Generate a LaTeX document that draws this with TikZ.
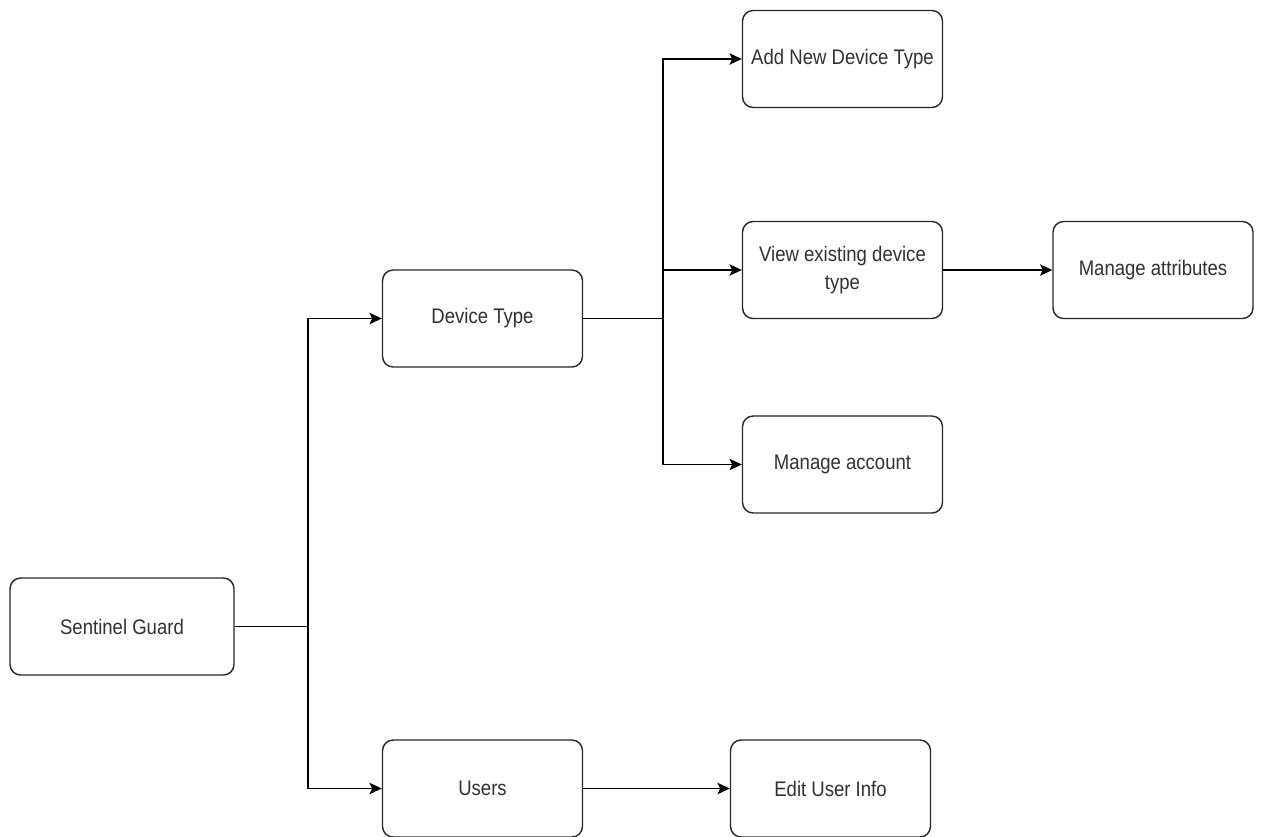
\documentclass[tikz,border=0pt]{standalone}
\usepackage{fontspec}
\setmainfont[FakeStretch=0.88]{Liberation Sans}
\usetikzlibrary{
    positioning,
    arrows.meta
}
\definecolor{boxline}{RGB}{40, 40, 40}
\definecolor{boxtext}{RGB}{50, 50, 50}

\begin{document}
\begin{tikzpicture}[
    x=0.02cm, y=-0.02cm,
    menu/.style={rectangle, draw=boxline, fill=white, rounded corners=6pt, line width=0.8pt,
                 minimum width=#1, minimum height=1.94cm, align=center,
                 font=\fontsize{12}{16}\selectfont, text=boxtext},
    menu/.default=4cm,
    arrow/.style={-{Stealth[length=7pt, width=6.5pt, inset=1.5pt]}, line width=0.8pt, draw=black},
    link/.style={line width=0.8pt, draw=black}
]

\useasboundingbox (0,0) rectangle (1261,836);

% ============================================
% ROOT
% ============================================
\node[menu=4.48cm] (sentinel) at (122, 626.5) {Sentinel Guard};
\coordinate (busroot) at (308, 626.5);

% ============================================
% FIRST LEVEL
% ============================================
\node[menu] (devtype) at (482.5, 318.5) {Device Type};
\node[menu] (users) at (482.5, 788.5) {Users};

\draw[link] (sentinel) -- (busroot);
\draw[arrow] (busroot) |- (devtype);
\draw[arrow] (busroot) |- (users);

% ============================================
% DEVICE TYPE MENU
% ============================================
\node[menu] (addtype) at (842.5, 59) {Add New Device Type};
\node[menu] (viewtype) at (842.5, 270) {View existing device\\type};
\node[menu] (account) at (842.5, 464.5) {Manage account};
\coordinate (busdev) at (663, 318.5);

\draw[link] (devtype) -- (busdev);
\foreach \item in {addtype, viewtype, account} {
    \draw[arrow] (busdev) |- (\item);
}

% Attributes of an existing type
\node[menu] (attrs) at (1153, 270) {Manage attributes};
\draw[arrow] (viewtype) -- (attrs);

% ============================================
% USERS MENU
% ============================================
\node[menu] (edituser) at (830.5, 788.5) {Edit User Info};
\draw[arrow] (users) -- (edituser);

\end{tikzpicture}
\end{document}
